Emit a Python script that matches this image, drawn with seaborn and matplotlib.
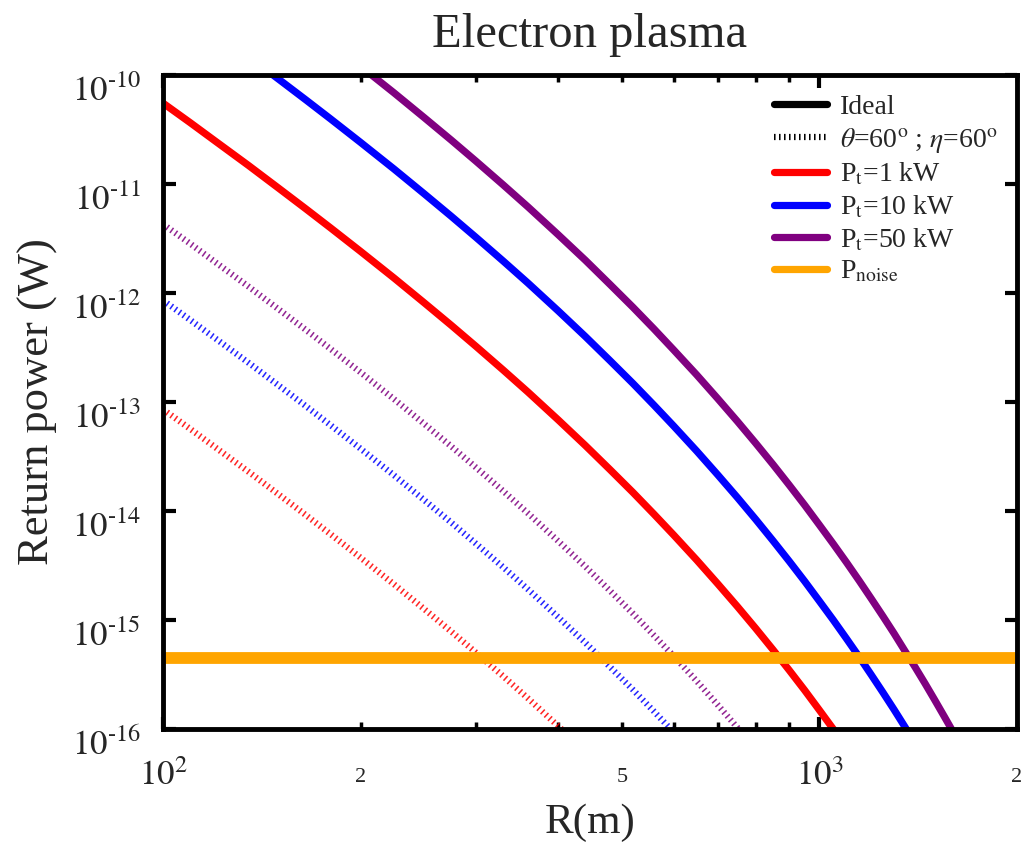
import numpy as np
import pandas as pd
import matplotlib
matplotlib.use("Agg")
import matplotlib.pyplot as plt
import seaborn as sns
from matplotlib.lines import Line2D
from matplotlib.ticker import FixedLocator, FixedFormatter, NullLocator

# ---------------- data ----------------
R_red = [100, 110, 120, 135, 150, 165, 180, 200, 225, 250, 275, 300, 330, 360, 400,
         440, 480, 520, 560, 600, 650, 700, 750, 800, 850, 900, 950, 1000, 1050, 1100]
P_red = [5.53e-11, 3.66e-11, 2.49e-11, 1.48e-11, 9.17e-12, 5.93e-12, 3.96e-12, 2.41e-12,
         1.37e-12, 8.14e-13, 5.05e-13, 3.23e-13, 1.96e-13, 1.23e-13, 6.86e-14,
         3.99e-14, 2.39e-14, 1.48e-14, 9.33e-15, 6.01e-15, 3.56e-15, 2.15e-15, 1.33e-15,
         8.36e-16, 5.33e-16, 3.45e-16, 2.26e-16, 1.49e-16, 9.98e-17, 6.73e-17]

R_blue = [135, 150, 165, 180, 200, 225, 250, 275, 300, 330, 360, 400, 440, 480, 520,
          560, 600, 650, 700, 750, 800, 850, 900, 950, 1000, 1050, 1100, 1150, 1200,
          1250, 1300, 1350, 1400]
P_blue = [1.48e-10, 9.17e-11, 5.93e-11, 3.96e-11, 2.41e-11, 1.37e-11, 8.14e-12, 5.05e-12,
          3.23e-12, 1.96e-12, 1.23e-12, 6.86e-13, 3.99e-13, 2.39e-13, 1.48e-13,
          9.33e-14, 6.01e-14, 3.56e-14, 2.15e-14, 1.33e-14, 8.36e-15, 5.33e-15, 3.45e-15,
          2.26e-15, 1.49e-15, 9.99e-16, 6.73e-16, 4.58e-16, 3.13e-16,
          2.16e-16, 1.50e-16, 1.045e-16, 7.34e-17]

R_purple = [180, 200, 225, 250, 275, 300, 330, 360, 400, 440, 480, 520, 560, 600, 650,
            700, 750, 800, 850, 900, 950, 1000, 1050, 1100, 1150, 1200, 1250, 1300, 1350,
            1400, 1450, 1500, 1550, 1600]
P_purple = [1.98e-10, 1.205e-10, 6.85e-11, 4.07e-11, 2.525e-11, 1.615e-11, 9.8e-12, 6.15e-12,
            3.43e-12, 2.0e-12, 1.195e-12, 7.4e-13, 4.67e-13, 3.0e-13, 1.78e-13,
            1.075e-13, 6.65e-14, 4.18e-14, 2.67e-14, 1.725e-14, 1.13e-14, 7.45e-15,
            4.99e-15, 3.37e-15, 2.29e-15, 1.565e-15, 1.08e-15, 7.5e-16, 5.2e-16,
            3.67e-16, 2.59e-16, 1.83e-16, 1.30e-16, 9.3e-17]

R_red_d = [100, 110, 120, 135, 150, 165, 180, 200, 225, 250, 275, 300, 330, 360, 400, 440]
P_red_d = [8.57e-14, 5.67e-14, 3.86e-14, 2.29e-14, 1.42e-14, 9.19e-15, 6.13e-15, 3.73e-15,
           2.12e-15, 1.26e-15, 7.82e-16, 5.0e-16, 3.04e-16, 1.905e-16, 1.063e-16, 6.18e-17]

R_blue_d = [100, 110, 120, 135, 150, 165, 180, 200, 225, 250, 275, 300, 330, 360, 400,
            440, 480, 520, 560, 600]
P_blue_d = [8.57e-13, 5.67e-13, 3.86e-13, 2.29e-13, 1.42e-13, 9.19e-14, 6.13e-14, 3.73e-14,
            2.12e-14, 1.26e-14, 7.82e-15, 5.0e-15, 3.04e-15, 1.905e-15, 1.063e-15,
            6.18e-16, 3.70e-16, 2.29e-16, 1.445e-16, 9.31e-17]

R_purple_d = [100, 110, 120, 135, 150, 165, 180, 200, 225, 250, 275, 300, 330, 360, 400,
              440, 480, 520, 560, 600, 650, 700, 750, 800]
P_purple_d = [4.29e-12, 2.84e-12, 1.93e-12, 1.145e-12, 7.1e-13, 4.6e-13, 3.07e-13, 1.87e-13,
              1.06e-13, 6.3e-14, 3.91e-14, 2.5e-14, 1.52e-14, 9.5e-15, 5.3e-15,
              3.09e-15, 1.85e-15, 1.145e-15, 7.2e-16, 4.66e-16, 2.76e-16, 1.665e-16,
              1.03e-16, 6.47e-17]

R_noise = [100, 2000]
P_noise = [4.5e-16, 4.5e-16]

x_major = [100, 1000]
x_major_labels = [r"$10^{2}$", r"$10^{3}$"]
x_minor = [200, 300, 400, 500, 600, 700, 800, 900, 2000]
x_minor_labels = ["2", "", "", "5", "", "", "", "", "2"]
y_ticks = [1e-16, 1e-15, 1e-14, 1e-13, 1e-12, 1e-11, 1e-10]
y_exponents = ["16", "15", "14", "13", "12", "11", "10"]
y_tick_labels = [r"$10^{\text{-}%s}$" % e for e in y_exponents]

legend_labels = ["Ideal", r"$\theta$=60$^{\rm o}$ ; $\eta$=60$^{\rm o}$",
                 r"P$_{\rm t}$=1 kW", r"P$_{\rm t}$=10 kW", r"P$_{\rm t}$=50 kW",
                 r"P$_{\rm noise}$"]

# ---------------- style ----------------
sns.set_theme(style="ticks")
plt.rcParams["font.family"] = ["Liberation Serif", "DejaVu Serif"]
plt.rcParams["mathtext.fontset"] = "stix"
plt.rcParams["axes.linewidth"] = 3.5

RED, BLUE, PURPLE, ORANGE = "#ff0000", "#0000ff", "#800080", "#ffa500"

fig = plt.figure(figsize=(10.23, 8.44), dpi=100)
ax = fig.add_axes([0.1593, 0.1363, 0.9941 - 0.1593, 0.9111 - 0.1363])

lw_solid = 5.2
lw_dot = 4.5
dots = (0.25, 0.55)

for R, P, c in [(R_red_d, P_red_d, RED), (R_blue_d, P_blue_d, BLUE), (R_purple_d, P_purple_d, PURPLE)]:
    sns.lineplot(x=R, y=P, ax=ax, color=c, lw=lw_dot, alpha=0.85,
                 linestyle=(0, dots), estimator=None, sort=False)

for R, P, c in [(R_red, P_red, RED), (R_blue, P_blue, BLUE), (R_purple, P_purple, PURPLE)]:
    sns.lineplot(x=R, y=P, ax=ax, color=c, lw=lw_solid, estimator=None, sort=False)

sns.lineplot(x=R_noise, y=P_noise, ax=ax, color=ORANGE, lw=8.5, estimator=None, sort=False)

ax.set_xscale("log")
ax.set_yscale("log")
ax.set_xlim(100, 2000)
ax.set_ylim(1e-16, 1e-10)

ax.xaxis.set_major_locator(FixedLocator(x_major))
ax.xaxis.set_major_formatter(FixedFormatter(x_major_labels))
ax.xaxis.set_minor_locator(FixedLocator(x_minor))
ax.xaxis.set_minor_formatter(FixedFormatter(x_minor_labels))

ax.yaxis.set_major_locator(FixedLocator(y_ticks))
ax.yaxis.set_major_formatter(FixedFormatter(y_tick_labels))
ax.yaxis.set_minor_locator(NullLocator())

ax.tick_params(which="both", direction="in", top=True, right=True, color="black")
ax.tick_params(which="major", length=9, width=3)
ax.tick_params(which="minor", length=5, width=2.5)
ax.tick_params(axis="y", which="major", labelsize=25, pad=16)
ax.tick_params(axis="x", which="major", labelsize=25, pad=22)
ax.tick_params(axis="x", which="minor", labelsize=16, pad=28)
for lab in ax.get_yticklabels():
    lab.set_va("top")

for s in ax.spines.values():
    s.set_color("black")
    s.set_linewidth(3.5)

ax.set_xlabel("R(m)", fontsize=31, labelpad=8)
ax.set_ylabel("Return power (W)", fontsize=32, labelpad=10)
ax.set_title("Electron plasma", fontsize=35, pad=20)

handles = [
    Line2D([], [], color="black", lw=lw_solid),
    Line2D([], [], color="black", lw=lw_dot, linestyle=(0, dots)),
    Line2D([], [], color=RED, lw=lw_solid),
    Line2D([], [], color=BLUE, lw=lw_solid),
    Line2D([], [], color=PURPLE, lw=lw_solid),
    Line2D([], [], color=ORANGE, lw=lw_solid),
]
ax.legend(handles, legend_labels, loc="upper right", frameon=False, fontsize=20,
          handlelength=1.9, handletextpad=0.45, labelspacing=0.22,
          borderaxespad=0.3, bbox_to_anchor=(1.0, 1.0))

fig.savefig("out.png", dpi=100)
